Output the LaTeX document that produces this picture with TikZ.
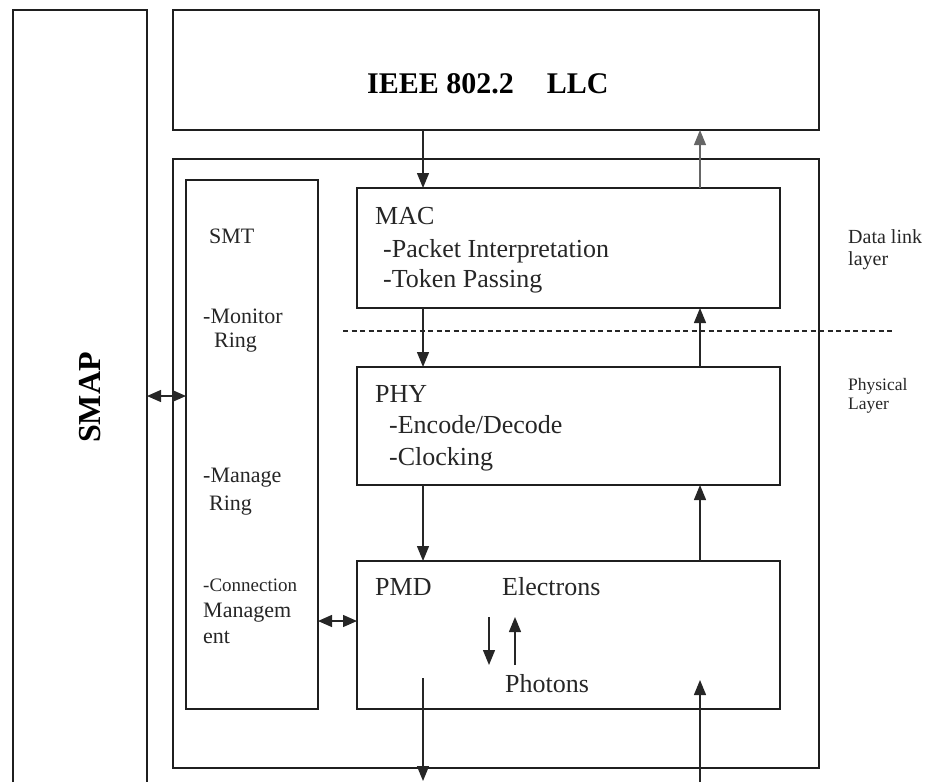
\documentclass[tikz,border=0pt]{standalone}
\usepackage{fontspec}
\setmainfont{Liberation Serif}
\usetikzlibrary{arrows.meta}
\begin{document}
\begin{tikzpicture}[x=1pt,y=-1pt,
  box/.style={draw=black!88, line width=1.5pt, inner sep=0pt, outer sep=0pt},
  boxline/.style={draw=black!88, line width=1.5pt},
  arr/.style={draw=black!85, line width=1.3pt, -{Triangle[length=15pt,width=12pt]}},
  darr/.style={draw=black!85, line width=1.3pt, {Triangle[length=14pt,width=12pt]}-{Triangle[length=14pt,width=12pt]}},
  txt/.style={inner sep=0pt, anchor=base west, text=black!85, font=\fontsize{26}{30}\selectfont},
  smtxt/.style={txt, font=\fontsize{22}{26}\selectfont},
  tinytxt/.style={txt, font=\fontsize{19}{22}\selectfont},
  lbl/.style={txt, font=\fontsize{20}{24}\selectfont},
  lbls/.style={txt, font=\fontsize{17.5}{20}\selectfont},
  titletxt/.style={inner sep=0pt, anchor=base west, font=\bfseries\fontsize{30}{34}\selectfont},
]
\useasboundingbox (0,0) rectangle (929,782);

% boxes
\node[box, minimum width=646pt, minimum height=120pt] (llc) at (496,70) {};
\node[box, minimum width=646pt, minimum height=609pt] (outer) at (496,463.5) {};
\node[box, minimum width=132pt, minimum height=529pt] (smt) at (252,444.5) {};
\node[box, minimum width=423pt, minimum height=120pt] (mac) at (568.5,248) {};
\node[box, minimum width=423pt, minimum height=118pt] (phy) at (568.5,426) {};
\node[box, minimum width=423pt, minimum height=148pt] (pmd) at (568.5,635) {};
\node[inner sep=0pt, outer sep=0pt, minimum width=134pt, minimum height=800pt, anchor=north west] (smap) at (13,10) {};

% SMAP open box
\coordinate (bot) at (0,782);
\draw[boxline] (smap.north west |- bot) -- (smap.north west) -- (smap.north east) -- (smap.north east |- bot);

% helper coordinates
\coordinate (xl) at (423,0);
\coordinate (xr) at (700,0);
\coordinate (ya) at (0,396);
\coordinate (yb) at (0,621);

% vertical arrows
\draw[arr] (llc.south -| xl) -- (mac.north -| xl);
\draw[arr, draw=black!60, line width=1.1pt] (mac.north -| xr) -- (llc.south -| xr);
\draw[arr] (mac.south -| xl) -- (phy.north -| xl);
\draw[arr] (phy.north -| xr) -- (mac.south -| xr);
\draw[arr] (phy.south -| xl) -- (pmd.north -| xl);
\draw[arr] (pmd.north -| xr) -- (phy.south -| xr);

\coordinate (pmdout) at (423,678);
\coordinate (bottomL) at (423,781);
\coordinate (bottomR) at (700,782);
\coordinate (pmdin) at (700,680);
\draw[arr] (pmdout) -- (bottomL);
\draw[arr] (bottomR) -- (pmdin);

% double arrows
\draw[darr] (smap.east |- ya) -- (smt.west |- ya);
\draw[darr] (smt.east |- yb) -- (pmd.west |- yb);

% electrons/photons arrows
\coordinate (e1) at (489,617);
\coordinate (e2) at (489,665);
\coordinate (p1) at (515,665);
\coordinate (p2) at (515,617);
\draw[arr] (e1) -- (e2);
\draw[arr] (p1) -- (p2);

% dashed layer line
\coordinate (dashL) at (343,331);
\coordinate (dashR) at (893,331);
\draw[black!85, line width=1.2pt, dash pattern=on 5pt off 3.5pt] (dashL) -- (dashR);

% texts
\node[titletxt] (llct) at (367,93) {IEEE 802.2\hspace{33pt}LLC};
\node[titletxt, rotate=90, font=\bfseries\fontsize{32}{36}\selectfont] (smapt) at (100,443) {SMAP};

\node[txt] (mact) at (375,224) {MAC};
\node[txt] (mac1) at (383,257) {-Packet Interpretation};
\node[txt] (mac2) at (383,287) {-Token Passing};

\node[txt] (phyt) at (375,402) {PHY};
\node[txt] (phy1) at (389,433) {-Encode/Decode};
\node[txt] (phy2) at (389,465) {-Clocking};

\node[txt] (pmdt) at (375,595) {PMD};
\node[txt] (elec) at (502,595) {Electrons};
\node[txt] (phot) at (505,692) {Photons};

\node[smtxt] (smtt) at (209,243) {SMT};
\node[smtxt] (smt1) at (203,323) {-Monitor};
\node[smtxt] (smt2) at (214,347) {Ring};
\node[smtxt] (smt3) at (203,482) {-Manage};
\node[smtxt] (smt4) at (209,510) {Ring};
\node[tinytxt] (smt5) at (203,591) {-Connection};
\node[smtxt] (smt6) at (203,617) {Managem};
\node[smtxt] (smt7) at (203,643) {ent};

\node[lbl] (dl1) at (848,243) {Data link};
\node[lbl] (dl2) at (848,265) {layer};
\node[lbls] (pl1) at (848,390) {Physical};
\node[lbls] (pl2) at (848,409) {Layer};
\end{tikzpicture}
\end{document}
